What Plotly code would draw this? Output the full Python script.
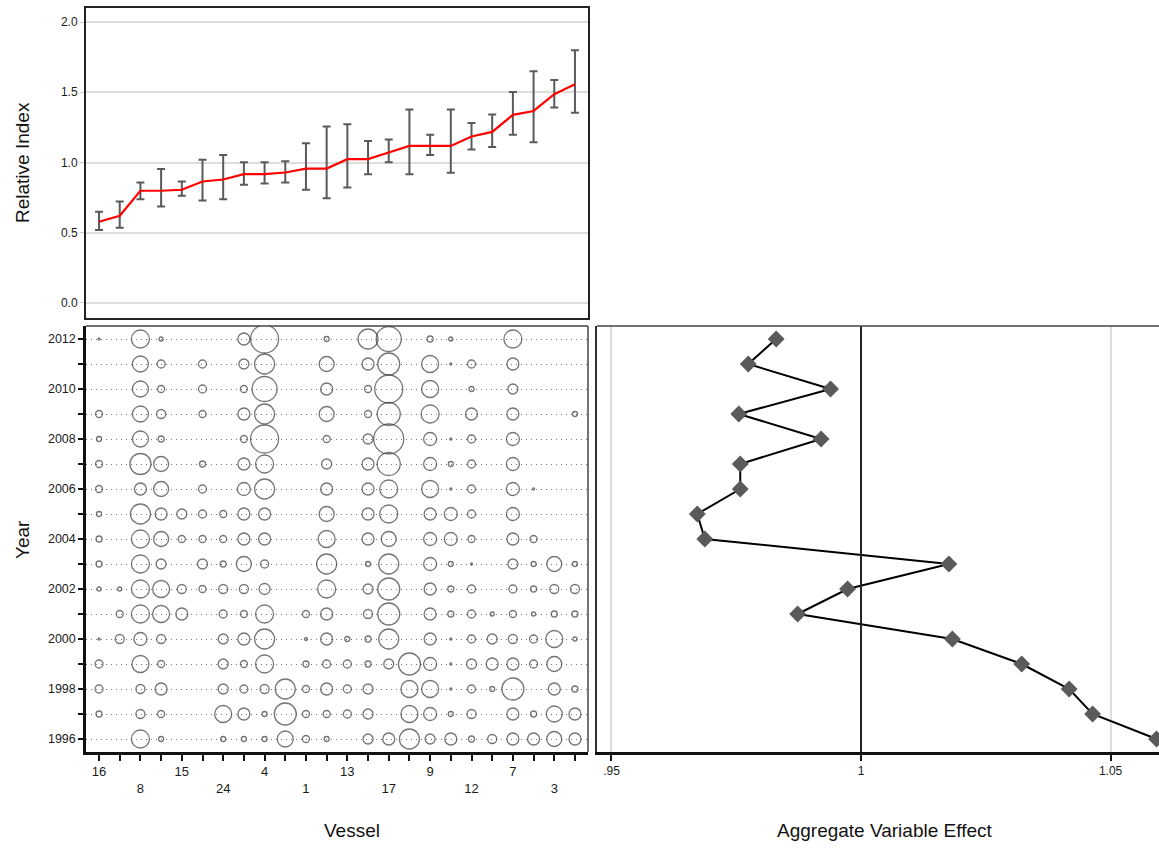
import plotly.graph_objects as go

W, H = 1159, 848

# ---------------- data ----------------
vessel_labels = ["16", "", "8", "", "15", "", "24", "", "4", "", "1", "",
                 "13", "", "17", "", "9", "", "12", "", "7", "", "3", ""]
vessel_pos = list(range(1, 25))

relative_index = [0.578, 0.621, 0.799, 0.799, 0.806, 0.865, 0.879, 0.917, 0.917, 0.929, 0.957, 0.957,
                  1.024, 1.024, 1.071, 1.118, 1.118, 1.118, 1.185, 1.218, 1.339, 1.367, 1.486, 1.557]
index_lower = [0.519, 0.536, 0.739, 0.687, 0.763, 0.730, 0.739, 0.841, 0.851, 0.858, 0.806, 0.746,
               0.822, 0.917, 1.002, 0.917, 1.054, 0.927, 1.092, 1.111, 1.197, 1.145, 1.391, 1.355]
index_upper = [0.649, 0.723, 0.858, 0.953, 0.865, 1.019, 1.054, 1.002, 1.002, 1.009, 1.137, 1.256,
               1.273, 1.154, 1.163, 1.377, 1.197, 1.377, 1.282, 1.341, 1.502, 1.649, 1.588, 1.799]

years = list(range(2012, 1995, -1))

# relative number of records per vessel (columns) and year (rows, 2012 -> 1996)
records = [
    [2, 0, 18, 4, 0, 0, 0, 12, 28, 0, 0, 5, 0, 20, 25, 0, 6, 4, 0, 0, 18, 0, 0, 0],   # 2012
    [0, 0, 16, 8, 0, 8, 0, 10, 20, 0, 0, 15, 0, 12, 22, 0, 17, 2, 8, 0, 12, 0, 0, 0],  # 2011
    [0, 0, 16, 7, 0, 8, 0, 7, 25, 0, 0, 12, 0, 7, 28, 0, 17, 0, 5, 0, 10, 0, 0, 0],    # 2010
    [7, 0, 16, 9, 0, 7, 0, 12, 20, 0, 0, 15, 0, 7, 23, 0, 18, 0, 12, 0, 12, 0, 0, 5],  # 2009
    [5, 0, 16, 6, 0, 0, 0, 7, 28, 0, 0, 7, 0, 10, 30, 0, 13, 2, 8, 0, 13, 0, 0, 0],    # 2008
    [7, 0, 21, 15, 0, 6, 0, 12, 18, 0, 0, 10, 0, 12, 23, 0, 13, 5, 8, 0, 13, 0, 0, 0], # 2007
    [7, 0, 12, 15, 0, 8, 0, 13, 20, 0, 0, 12, 0, 12, 18, 0, 17, 2, 8, 0, 13, 2, 0, 0], # 2006
    [5, 0, 20, 12, 10, 8, 7, 12, 12, 0, 0, 15, 0, 12, 18, 0, 12, 13, 8, 0, 13, 0, 0, 0],  # 2005
    [6, 0, 18, 15, 7, 7, 7, 12, 12, 0, 0, 17, 0, 12, 15, 0, 13, 13, 7, 0, 12, 7, 0, 0],   # 2004
    [6, 0, 18, 10, 0, 10, 6, 15, 8, 0, 0, 20, 0, 5, 20, 0, 13, 5, 2, 0, 10, 5, 15, 5],    # 2003
    [4, 4, 18, 17, 9, 7, 9, 9, 11, 0, 0, 18, 0, 10, 22, 0, 12, 6, 8, 0, 8, 6, 9, 9],      # 2002
    [0, 7, 18, 17, 12, 0, 8, 7, 18, 0, 7, 12, 0, 9, 22, 0, 12, 6, 8, 4, 7, 4, 6, 6],      # 2001
    [2, 9, 13, 9, 0, 0, 10, 12, 20, 0, 3, 12, 5, 6, 20, 0, 12, 2, 8, 10, 9, 8, 17, 4],    # 2000
    [8, 0, 17, 7, 0, 0, 10, 7, 18, 0, 6, 8, 8, 6, 10, 22, 13, 2, 10, 12, 12, 8, 15, 0],   # 1999
    [8, 0, 9, 12, 0, 0, 10, 8, 9, 20, 7, 12, 8, 10, 0, 17, 17, 2, 8, 5, 22, 0, 12, 6],    # 1998
    [6, 0, 9, 7, 0, 0, 17, 12, 5, 22, 7, 7, 8, 10, 0, 17, 13, 5, 9, 0, 12, 6, 16, 12],    # 1997
    [0, 0, 18, 5, 0, 0, 5, 5, 5, 16, 7, 5, 0, 10, 12, 20, 10, 12, 6, 9, 12, 12, 15, 12],  # 1996
]

aggregate_effect = [0.9830, 0.9774, 0.9939, 0.9755, 0.9920, 0.9758, 0.9758, 0.9672, 0.9687,
                    1.0176, 0.9973, 0.9873, 1.0183, 1.0322, 1.0417, 1.0464, 1.0592]

# ---------------- layout helpers ----------------
def px_x(p):
    return p / W

def px_y(p):
    return 1 - p / H

FONT = "Liberation Sans, Arial, sans-serif"

fig = go.Figure()

# top panel: relative index with error bars
fig.add_trace(go.Scatter(
    x=vessel_pos, y=relative_index, mode="lines",
    line=dict(color="#ff0000", width=2.2),
    error_y=dict(type="data", symmetric=False,
                 array=[u - v for u, v in zip(index_upper, relative_index)],
                 arrayminus=[v - l for v, l in zip(relative_index, index_lower)],
                 color="#5a5a5a", thickness=2, width=4),
    xaxis="x", yaxis="y", showlegend=False, hoverinfo="skip"))

# bubble panel
bx, by, bs = [], [], []
for yr, row in zip(years, records):
    for v, val in zip(vessel_pos, row):
        if val > 0:
            bx.append(v)
            by.append(yr)
            bs.append(val)
max_rec = max(bs)
fig.add_trace(go.Scatter(
    x=bx, y=by, mode="markers",
    marker=dict(symbol="circle-open", size=bs, sizemode="diameter",
                sizeref=max_rec / 30.0, color="#3a3a3a", line=dict(width=1.3)),
    xaxis="x2", yaxis="y2", showlegend=False, hoverinfo="skip"))

# right panel: aggregate effect
fig.add_trace(go.Scatter(
    x=aggregate_effect, y=years, mode="lines+markers",
    line=dict(color="#000000", width=2),
    marker=dict(symbol="diamond", size=13, color="#5a5a5a"),
    xaxis="x3", yaxis="y3", showlegend=False, hoverinfo="skip"))

top_dom_y = [px_y(318), px_y(8)]
bot_dom_y = [px_y(752), px_y(326)]
left_dom_x = [px_x(86), px_x(588)]
right_dom_x = [px_x(597), 1.0]

x_range = [0.37, 24.63]

axis_line = dict(showline=True, linecolor="#222222", linewidth=2, mirror=True)
thick = dict(showline=True, linecolor="#111111", linewidth=2.5, mirror=False)

fig.update_layout(
    width=W, height=H,
    margin=dict(l=0, r=0, t=0, b=0),
    paper_bgcolor="white", plot_bgcolor="white",
    font=dict(family=FONT, color="#1a1a1a", size=12),
    xaxis=dict(domain=left_dom_x, anchor="y", range=x_range, showticklabels=False,
               ticks="", showgrid=False, zeroline=False, **axis_line),
    yaxis=dict(domain=top_dom_y, anchor="x", range=[-0.107, 2.1],
               tickvals=[0, 0.5, 1.0, 1.5, 2.0], tickformat=".1f",
               ticks="outside", ticklen=4, tickcolor="#cccccc",
               showgrid=True, gridcolor="#dddddd", gridwidth=2, zeroline=False,
               tickfont=dict(size=12), **axis_line),
    xaxis2=dict(domain=left_dom_x, anchor="y2", range=x_range,
                tickvals=vessel_pos,
                ticktext=[(lab if (i // 2) % 2 == 0 else "<br>" + lab) for i, lab in enumerate(vessel_labels)],
                ticks="outside", ticklen=6, tickwidth=1.5, tickcolor="#111111",
                tickfont=dict(size=13), showgrid=False, zeroline=False, **thick),
    yaxis2=dict(domain=bot_dom_y, anchor="x2", range=[1995.48, 2012.52],
                tickvals=years,
                ticktext=[str(y) if y % 2 == 0 else "" for y in years],
                ticks="outside", ticklen=5, tickwidth=1.5, tickcolor="#111111",
                showgrid=True, gridcolor="#777777", gridwidth=1, griddash="1px,4px",
                zeroline=False, tickfont=dict(size=12.5), **thick),
    xaxis3=dict(domain=right_dom_x, anchor="y3", range=[0.9471, 1.0597],
                tickvals=[0.95, 1.0, 1.05], ticktext=[".95", "1", "1.05"],
                ticks="outside", ticklen=6, tickwidth=1.5, tickcolor="#111111",
                showgrid=True, gridcolor="#dddddd", gridwidth=2, zeroline=False,
                tickfont=dict(size=12), **thick),
    yaxis3=dict(domain=bot_dom_y, anchor="x3", range=[1995.48, 2012.52],
                showticklabels=False, ticks="", showgrid=False, zeroline=False,
                showline=True, linecolor="#333333", linewidth=2, mirror=False),
    shapes=[
        dict(type="line", xref="x3", yref="y3 domain", x0=1, x1=1, y0=0, y1=1,
             line=dict(color="#222222", width=2), layer="above"),
        # thin top / right borders of the lower panels
        dict(type="line", xref="x2 domain", yref="y2 domain", x0=0, x1=1, y0=1, y1=1,
             line=dict(color="#444444", width=1.5), layer="above"),
        dict(type="line", xref="x2 domain", yref="y2 domain", x0=1, x1=1, y0=0, y1=1,
             line=dict(color="#444444", width=1.5), layer="above"),
        dict(type="line", xref="x3 domain", yref="y3 domain", x0=0, x1=1, y0=1, y1=1,
             line=dict(color="#444444", width=1.5), layer="above"),
    ],
    annotations=[
        dict(text="Relative Index", x=px_x(22), y=px_y(163), xref="paper", yref="paper",
             xanchor="center", yanchor="middle",
             textangle=-90, showarrow=False, font=dict(size=19, color="#111111")),
        dict(text="Year", x=px_x(22), y=px_y(540), xref="paper", yref="paper",
             xanchor="center", yanchor="middle",
             textangle=-90, showarrow=False, font=dict(size=19, color="#111111")),
        dict(text="Vessel", x=px_x(352), y=px_y(830), xref="paper", yref="paper",
             xanchor="center", yanchor="middle",
             showarrow=False, font=dict(size=19, color="#111111")),
        dict(text="Aggregate Variable Effect", x=px_x(884), y=px_y(830), xref="paper", yref="paper",
             xanchor="center", yanchor="middle",
             showarrow=False, font=dict(size=19, color="#111111")),
    ],
)

fig.write_html("out.html",
               config={"displayModeBar": False},
               post_script="document.body.style.margin='0';document.body.style.overflow='hidden';")
